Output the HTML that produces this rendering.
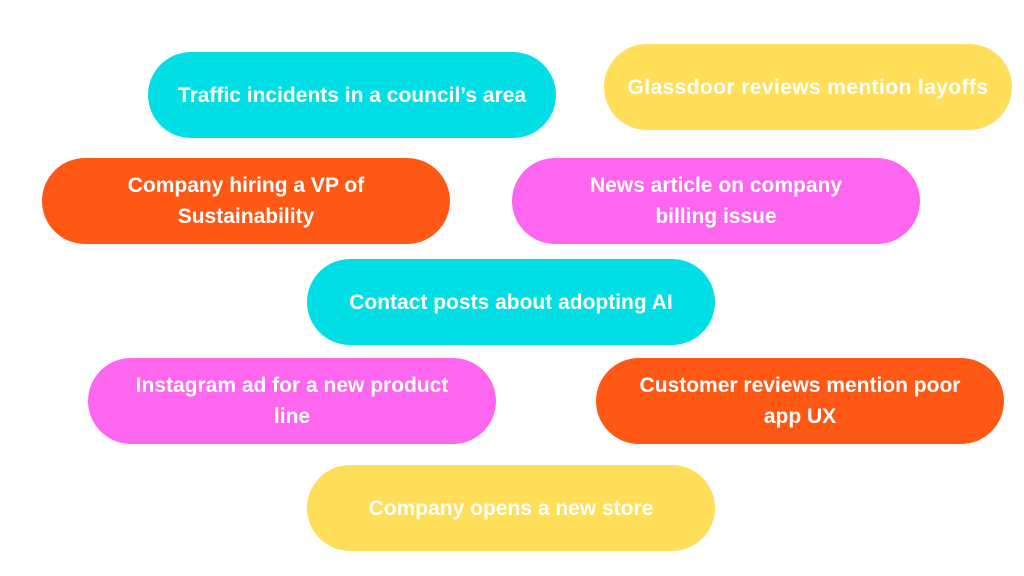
<!DOCTYPE html>
<html><head><meta charset="utf-8"><style>
html,body{margin:0;padding:0;background:#fff;width:1024px;height:576px;overflow:hidden;position:relative}
.p{position:absolute;width:408px;height:86px;border-radius:43px;display:flex;align-items:center;justify-content:center;text-align:center;color:#fff;font-family:"Liberation Sans",sans-serif;font-weight:bold;font-size:21px;line-height:31px;box-sizing:border-box;padding:0 40px}
.c{background:#00dfe6}.y{background:#ffde59}.o{background:#ff5714}.k{background:#ff66ef}
</style></head><body>
<div class="p c" style="left:148px;top:52px;padding:0 8px">Traffic incidents in a council’s area</div>
<div class="p y" style="left:604px;top:44px;padding:0 6px;letter-spacing:0.4px">Glassdoor reviews mention layoffs</div>
<div class="p o" style="left:42px;top:158px">Company hiring a VP of<br>Sustainability</div>
<div class="p k" style="left:512px;top:158px">News article on company<br>billing issue</div>
<div class="p c" style="left:307px;top:259px">Contact posts about adopting AI</div>
<div class="p k" style="left:88px;top:358px">Instagram ad for a new product<br>line</div>
<div class="p o" style="left:596px;top:358px">Customer reviews mention poor<br>app UX</div>
<div class="p y" style="left:307px;top:465px">Company opens a new store</div>
</body></html>
